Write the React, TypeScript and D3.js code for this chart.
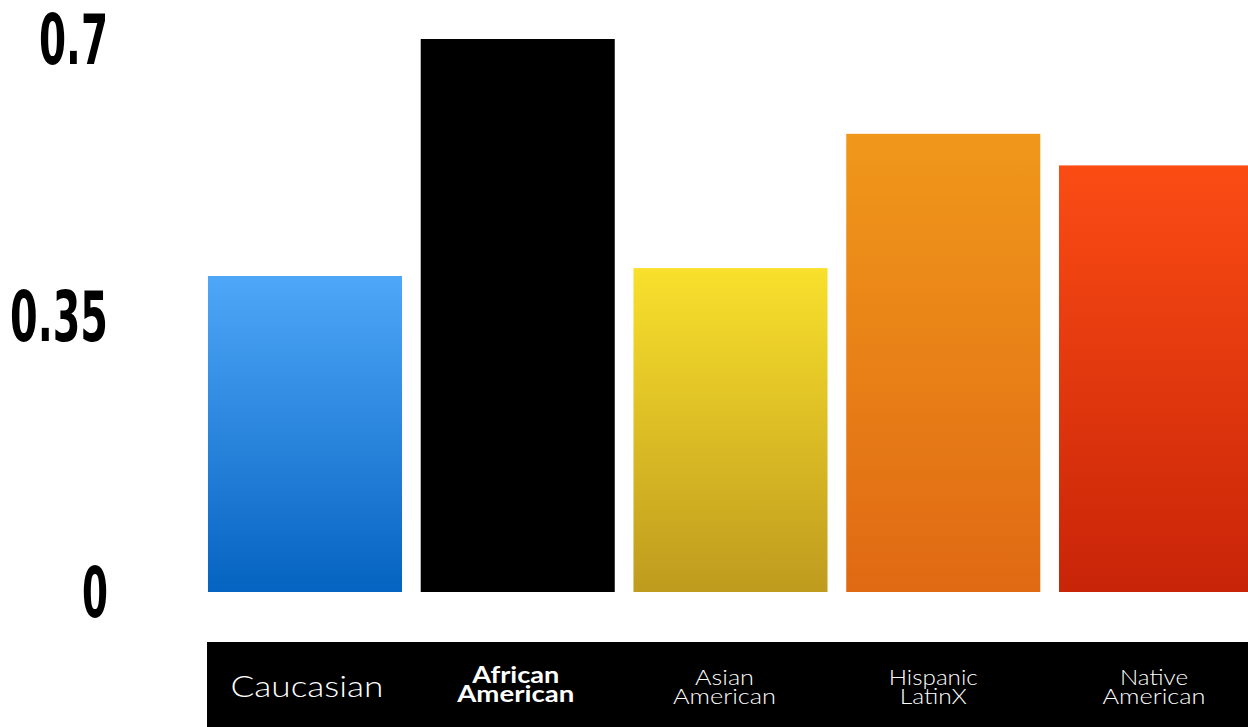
import React from "react";
import * as d3 from "d3";

const categories = ["Caucasian", "African American", "Asian American", "Hispanic LatinX", "Native American"];
const labelLines = [["Caucasian"], ["African", "American"], ["Asian", "American"], ["Hispanic", "LatinX"], ["Native", "American"]];
const values = [0.4, 0.7, 0.41, 0.58, 0.54];
const tickValues = [0, 0.35, 0.7];
const tickLabels = ["0", "0.35", "0.7"];
const gradTop = ["#4fa7f8", "#000000", "#f9e02c", "#f0981b", "#fb4c14"];
const gradBottom = ["#0563c1", "#000000", "#bf9b1e", "#e06913", "#c82408"];

const W = 1248;
const H = 727;

// visual tuning (not data)
const labelOffsets = [2, -2, -6, -10, -2];
const lineWidths = [[153], [87, 117], [59, 103], [89, 67], [68, 103]];
const tickWidths = [26, 98, 69];

export default function App() {
  const y = d3.scaleLinear().domain([0, 0.7]).range([592, 39]);
  const x = d3
    .scaleBand<string>()
    .domain(categories)
    .range([198.6, 1262.4])
    .paddingInner(0.088)
    .paddingOuter(0.044);
  return (
    <svg
      width={W}
      height={H}
      style={{ position: "absolute", left: 0, top: 0, background: "#fff" }}
    >
      <defs>
        {categories.map((c, i) => (
          <linearGradient key={c} id={`g${i}`} x1="0" y1="0" x2="0" y2="1">
            <stop offset="0%" stopColor={gradTop[i]} />
            <stop offset="100%" stopColor={gradBottom[i]} />
          </linearGradient>
        ))}
      </defs>
      {tickValues.map((t, i) => (
        <text
          key={t}
          x={108}
          y={y(t)}
          dy="0.36em"
          textAnchor="end"
          fontFamily="'Liberation Sans Narrow', 'DejaVu Sans Condensed', sans-serif"
          fontWeight="bold"
          fontSize={70}
          textLength={tickWidths[i]}
          lengthAdjust="spacingAndGlyphs"
          fill="#000"
        >
          {tickLabels[i]}
        </text>
      ))}
      {categories.map((c, i) => (
        <rect
          key={c}
          x={x(c)}
          y={y(values[i])}
          width={x.bandwidth()}
          height={y(0) - y(values[i])}
          fill={`url(#g${i})`}
        />
      ))}
      <rect x={207} y={642} width={W - 207} height={H - 642} fill="#000" />
      {categories.map((c, i) => {
        const cx = (x(c) as number) + x.bandwidth() / 2 + labelOffsets[i];
        const lines = labelLines[i];
        const bold = i === 1;
        if (lines.length === 1) {
          return (
            <text
              key={c}
              x={cx}
              y={697}
              textAnchor="middle"
              fontFamily="Lato, 'Open Sans', sans-serif"
              fontWeight={300}
              fontSize={30}
              textLength={lineWidths[i][0]}
              lengthAdjust="spacingAndGlyphs"
              fill="#fff"
            >
              {lines[0]}
            </text>
          );
        }
        return (
          <g key={c}>
            {lines.map((l, k) => (
              <text
                key={k}
                x={cx}
                y={(bold ? 683 : 685) + k * 19}
                textAnchor="middle"
                fontFamily="Lato, 'Open Sans', sans-serif"
                fontWeight={bold ? 700 : 300}
                fontSize={bold ? 23 : 21}
                textLength={lineWidths[i][k]}
                lengthAdjust="spacingAndGlyphs"
                fill="#fff"
              >
                {l}
              </text>
            ))}
          </g>
        );
      })}
    </svg>
  );
}
